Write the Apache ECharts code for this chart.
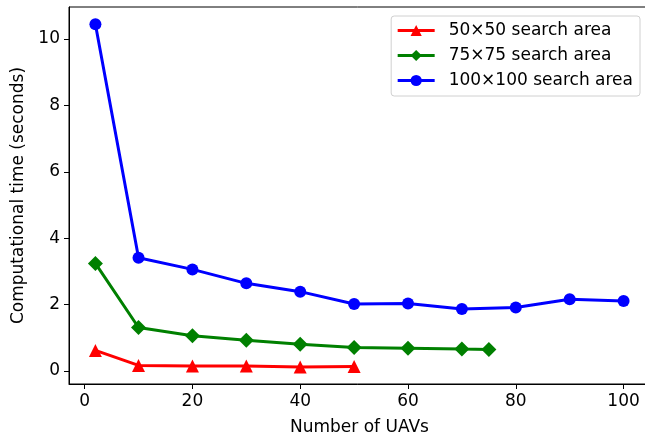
<!DOCTYPE html>
<html>
<head>
<meta charset="utf-8">
<script src="https://cdn.jsdelivr.net/npm/echarts@6/dist/echarts.min.js"></script>
<style>
  html, body { margin: 0; padding: 0; background: #fff; }
  #chart { width: 645px; height: 436px; }
</style>
</head>
<body>
<div id="chart"></div>
<script>
// data
const uavs50 = [2, 10, 20, 30, 40, 50];
const time50 = [0.62, 0.17, 0.15, 0.15, 0.12, 0.14];

const uavs75 = [2, 10, 20, 30, 40, 50, 60, 70, 75];
const time75 = [3.24, 1.31, 1.06, 0.93, 0.81, 0.71, 0.69, 0.66, 0.65];

const uavs100 = [2, 10, 20, 30, 40, 50, 60, 70, 80, 90, 100];
const time100 = [10.44, 3.41, 3.06, 2.64, 2.39, 2.02, 2.03, 1.87, 1.91, 2.16, 2.11];

const seriesNames = ['50×50 search area', '75×75 search area', '100×100 search area'];
const xTicks = [0, 20, 40, 60, 80, 100];
const yTicks = [0, 2, 4, 6, 8, 10];

const font = 'DejaVu Sans';

function pairs(xs, ys) {
  return xs.map((x, i) => [x, ys[i]]);
}

function lineSeries(name, data, color, symbol, size) {
  return {
    name: name,
    type: 'line',
    data: data,
    symbol: symbol,
    symbolSize: size,
    color: color,
    lineStyle: { color: color, width: 3 },
    itemStyle: { color: color },
    animation: false
  };
}

const chart = echarts.init(document.getElementById('chart'));
chart.setOption({
  backgroundColor: '#fff',
  animation: false,
  grid: {
    left: 69, top: 7, right: -5, bottom: 52,
    containLabel: false, outerBoundsMode: 'none',
    show: true, borderColor: '#000', borderWidth: 1, backgroundColor: 'transparent'
  },
  legend: {
    right: 5, top: 16,
    orient: 'vertical',
    itemWidth: 37, itemHeight: 14, itemGap: 8,
    padding: [6, 7, 7, 5],
    borderColor: '#d0d0d0', borderWidth: 1, borderRadius: 3,
    backgroundColor: '#fff',
    lineStyle: { width: 3 },
    textStyle: { fontFamily: font, fontSize: 17, color: '#000', padding: [0, 0, 0, 9] },
    data: seriesNames
  },
  xAxis: {
    type: 'value',
    min: -2.9, max: 104.9,
    name: 'Number of UAVs',
    nameLocation: 'middle', nameGap: 35,
    nameTextStyle: { fontFamily: font, fontSize: 17, color: '#000' },
    axisLine: { show: true, onZero: false, lineStyle: { color: '#000', width: 1 } },
    axisTick: { show: true, inside: false, length: 5, lineStyle: { color: '#000' }, customValues: xTicks },
    axisLabel: { fontFamily: font, fontSize: 17, color: '#000', margin: 9, customValues: xTicks },
    splitLine: { show: false }
  },
  yAxis: {
    type: 'value',
    min: -0.39, max: 10.96,
    name: 'Computational time (seconds)',
    nameLocation: 'middle', nameGap: 40,
    nameTextStyle: { fontFamily: font, fontSize: 17, color: '#000' },
    axisLine: { show: true, onZero: false, lineStyle: { color: '#000', width: 1 } },
    axisTick: { show: true, inside: false, length: 5, lineStyle: { color: '#000' }, customValues: yTicks },
    axisLabel: { fontFamily: font, fontSize: 17, color: '#000', margin: 9, customValues: yTicks },
    splitLine: { show: false }
  },
  series: [
    lineSeries(seriesNames[0], pairs(uavs50, time50), '#ff0000', 'triangle', 13),
    lineSeries(seriesNames[1], pairs(uavs75, time75), '#008000', 'diamond', 15),
    lineSeries(seriesNames[2], pairs(uavs100, time100), '#0000ff', 'circle', 12)
  ]
});
</script>
</body>
</html>
